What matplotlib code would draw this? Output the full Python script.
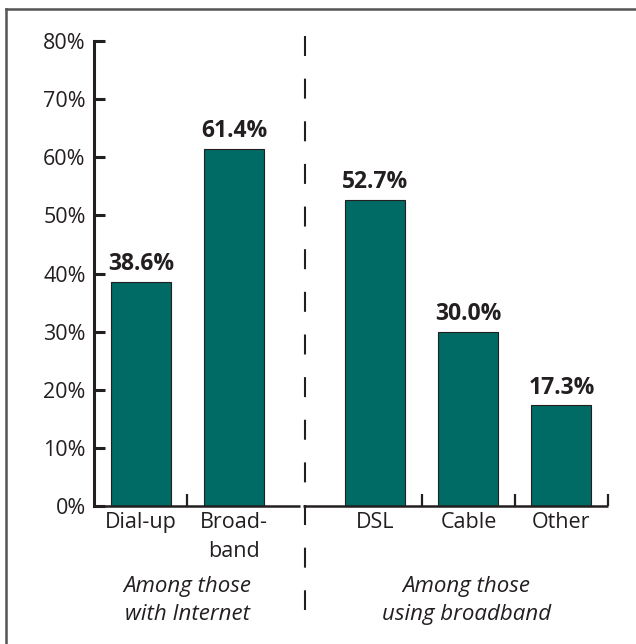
import matplotlib
matplotlib.use('Agg')
import matplotlib.pyplot as plt
from matplotlib.lines import Line2D

# Internet connection types, percent of households
categories = ['Dial-up', 'Broad-\nband', 'DSL', 'Cable', 'Other']
values = [38.6, 61.4, 52.7, 30.0, 17.3]
positions = [0, 1, 2.52, 3.52, 4.52]
group_labels = ['Among those\nwith Internet', 'Among those\nusing broadband']
yticks = [0, 10, 20, 30, 40, 50, 60, 70, 80]

bar_color = '#006b64'
ink = '#231f20'

plt.rcParams['font.family'] = ['Open Sans', 'DejaVu Sans']
plt.rcParams['lines.scale_dashes'] = False

fig = plt.figure(figsize=(6.36, 6.44), dpi=100)
ax = fig.add_axes([94 / 636, 138 / 644, (608 - 94) / 636, (506 - 41) / 644])

ax.bar(positions, values, width=0.645, color=bar_color, edgecolor=ink, linewidth=0.8, zorder=2)

for x, v in zip(positions, values):
    ax.text(x, v + 1.0, f'{v:.1f}%', ha='center', va='bottom',
            fontsize=16.5, fontweight='bold', color=ink)

ax.set_xlim(-0.505, 5.02)
ax.set_ylim(0, 80)

# y axis: only the left spine, ticks pointing inward
for side in ['top', 'right', 'bottom']:
    ax.spines[side].set_visible(False)
ax.spines['left'].set_linewidth(2.2)
ax.spines['left'].set_color(ink)
ax.set_yticks(yticks)
ax.set_yticklabels([f'{t}%' for t in yticks], fontsize=15.5, color=ink)
ax.tick_params(axis='y', direction='in', length=8, width=2.2, color=ink, pad=6)

# category labels under the bars
ax.set_xticks(positions)
ax.set_xticklabels(categories, fontsize=15.5, color=ink, linespacing=1.5)
ax.tick_params(axis='x', length=0, pad=4)

# split baseline with small separator ticks
ax.plot([-0.505, 1.71], [0, 0], color=ink, lw=1.8, clip_on=False, solid_capstyle='butt')
ax.plot([1.745, 5.02], [0, 0], color=ink, lw=1.8, clip_on=False, solid_capstyle='butt')
for tx in [0.5, 3.02, 4.02, 5.02]:
    ax.plot([tx, tx], [0, 2.0], color=ink, lw=1.6, clip_on=False, solid_capstyle='butt')

# dashed divider between the two groups
ax.plot([1.76, 1.76], [80.9, -17.9], color=ink, lw=1.5, clip_on=False,
        linestyle=(0, (14.4, 16.3)), dash_capstyle='butt')

# group captions
for gx, label in zip([0.5, 3.5], group_labels):
    ax.text(gx, -12.0, label, ha='center', va='top', fontsize=16,
            fontstyle='italic', color=ink, linespacing=1.45)

# frame along the top and left edges
fig.add_artist(Line2D([5.5 / 636, 5.5 / 636], [0, 1 - 8.5 / 644], color='#555555', lw=1.8))
fig.add_artist(Line2D([5.5 / 636, 1], [1 - 8.5 / 644, 1 - 8.5 / 644], color='#555555', lw=1.8))

fig.savefig('out.png', dpi=100)
